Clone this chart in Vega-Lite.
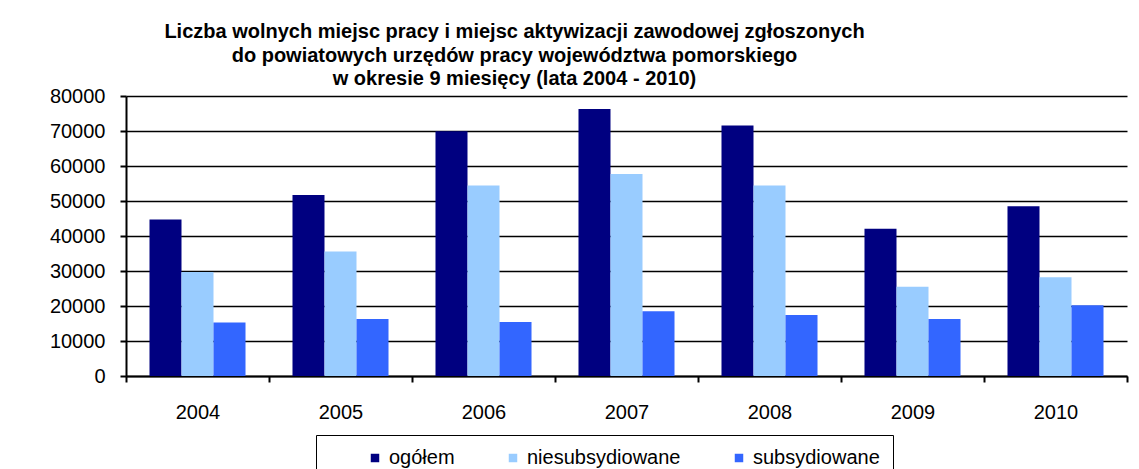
{
  "$schema": "https://vega.github.io/schema/vega-lite/v6.json",
  "autosize": {"type": "none"},
  "width": 1001,
  "height": 280,
  "padding": {"left": 126, "top": 96, "right": 12, "bottom": 93},
  "background": "white",
  "config": {
    "font": "Liberation Sans",
    "view": {"stroke": null}
  },
  "title": {
    "text": [
      "Liczba wolnych miejsc pracy i miejsc aktywizacji zawodowej zgłoszonych",
      "do powiatowych urzędów pracy województwa pomorskiego",
      "w okresie 9 miesięcy (lata 2004 - 2010)"
    ],
    "font": "Liberation Sans",
    "fontSize": 20,
    "fontWeight": "bold",
    "color": "#000000",
    "lineHeight": 23.5,
    "anchor": "middle",
    "frame": "group",
    "dx": -112,
    "offset": -3
  },
  "data": {
    "values": [
      {"rok": "2004", "seria": "ogółem", "wartosc": 44700},
      {"rok": "2004", "seria": "niesubsydiowane", "wartosc": 29700},
      {"rok": "2004", "seria": "subsydiowane", "wartosc": 15300},
      {"rok": "2005", "seria": "ogółem", "wartosc": 51700},
      {"rok": "2005", "seria": "niesubsydiowane", "wartosc": 35600},
      {"rok": "2005", "seria": "subsydiowane", "wartosc": 16300},
      {"rok": "2006", "seria": "ogółem", "wartosc": 69900},
      {"rok": "2006", "seria": "niesubsydiowane", "wartosc": 54400},
      {"rok": "2006", "seria": "subsydiowane", "wartosc": 15400},
      {"rok": "2007", "seria": "ogółem", "wartosc": 76300},
      {"rok": "2007", "seria": "niesubsydiowane", "wartosc": 57700},
      {"rok": "2007", "seria": "subsydiowane", "wartosc": 18500},
      {"rok": "2008", "seria": "ogółem", "wartosc": 71600},
      {"rok": "2008", "seria": "niesubsydiowane", "wartosc": 54400},
      {"rok": "2008", "seria": "subsydiowane", "wartosc": 17400},
      {"rok": "2009", "seria": "ogółem", "wartosc": 42100},
      {"rok": "2009", "seria": "niesubsydiowane", "wartosc": 25500},
      {"rok": "2009", "seria": "subsydiowane", "wartosc": 16300},
      {"rok": "2010", "seria": "ogółem", "wartosc": 48500},
      {"rok": "2010", "seria": "niesubsydiowane", "wartosc": 28200},
      {"rok": "2010", "seria": "subsydiowane", "wartosc": 20200}
    ]
  },
  "mark": {"type": "bar"},
  "encoding": {
    "x": {
      "field": "rok",
      "type": "nominal",
      "scale": {"paddingInner": 0, "paddingOuter": 0},
      "axis": {
        "title": null,
        "labelAngle": 0,
        "labelFontSize": 20,
        "labelColor": "#000000",
        "labelPadding": 20,
        "tickBand": "extent",
        "tickSize": 6,
        "tickWidth": 2,
        "tickColor": "#000000",
        "domainColor": "#000000",
        "domainWidth": 2,
        "grid": false
      }
    },
    "xOffset": {
      "field": "seria",
      "type": "nominal",
      "sort": ["ogółem", "niesubsydiowane", "subsydiowane"],
      "scale": {"paddingInner": 0, "paddingOuter": 0.734}
    },
    "y": {
      "field": "wartosc",
      "type": "quantitative",
      "scale": {"domain": [0, 80000], "nice": false},
      "axis": {
        "title": null,
        "values": [0, 10000, 20000, 30000, 40000, 50000, 60000, 70000, 80000],
        "format": "d",
        "labelFontSize": 20,
        "labelColor": "#000000",
        "labelPadding": 15,
        "tickSize": 6,
        "tickWidth": 2,
        "tickColor": "#000000",
        "domainColor": "#000000",
        "domainWidth": 2,
        "grid": true,
        "gridColor": "#000000",
        "gridWidth": 1.5
      }
    },
    "color": {
      "field": "seria",
      "type": "nominal",
      "sort": ["ogółem", "niesubsydiowane", "subsydiowane"],
      "scale": {
        "domain": ["ogółem", "niesubsydiowane", "subsydiowane"],
        "range": ["#000080", "#99CCFF", "#3366FF"]
      },
      "legend": {
        "orient": "none",
        "legendX": 190,
        "legendY": 339,
        "direction": "horizontal",
        "title": " ",
        "titleOrient": "left",
        "titleFontSize": 20,
        "titlePadding": 36,
        "strokeColor": "#000000",
        "padding": 13,
        "symbolType": "square",
        "symbolSize": 72,
        "symbolStrokeWidth": 0,
        "labelFontSize": 20,
        "labelColor": "#000000",
        "labelOffset": 4,
        "columnPadding": 48,
        "labelLimit": 400
      }
    }
  }
}
